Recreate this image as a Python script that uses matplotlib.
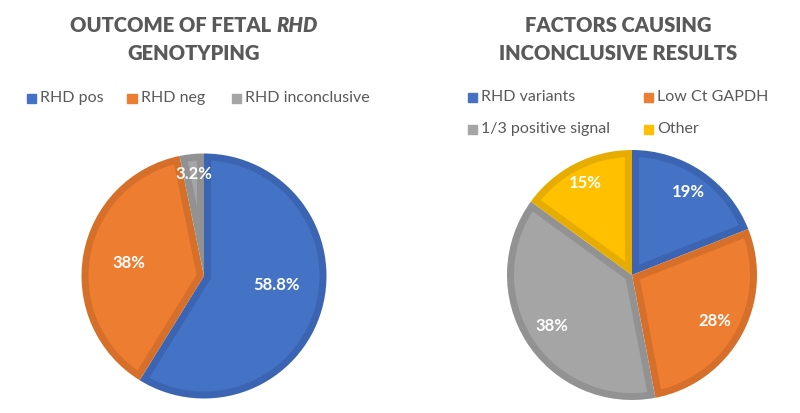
import matplotlib
matplotlib.use("Agg")
import matplotlib.pyplot as plt
from matplotlib.patches import Polygon
import numpy as np

plt.rcParams['font.family'] = ['Lato', 'DejaVu Sans']

# Дані лівої діаграми
left_labels = ['RHD pos', 'RHD neg', 'RHD inconclusive']
left_values = [58.8, 38, 3.2]
left_texts = ['58.8%', '38%', '3.2%']

# Дані правої діаграми
right_labels = ['RHD variants', 'Low Ct GAPDH', '1/3 positive signal', 'Other']
right_values = [19, 28, 38, 15]
right_texts = ['19%', '28%', '38%', '15%']

fills = ['#4472C4', '#ED7D31', '#A5A5A5', '#FFC000']
edges = ['#3B65B2', '#D66F29', '#929292', '#E6AD00']
grey = '#595959'

W, H = 800, 413
fig = plt.figure(figsize=(W / 100, H / 100), dpi=100)


def px_axes(cx, cy, r):
    # осі, що точно охоплюють коло з центром (cx, cy) і радіусом r у пікселях
    return fig.add_axes([(cx - r) / W, (H - cy - r) / H, 2 * r / W, 2 * r / H])


def inset_wedge(t1, t2, d):
    # внутрішня частина сектора, відступ d від усіх країв (рамка як в Excel)
    a1, a2 = np.deg2rad(t1), np.deg2rad(t2)
    half = (a2 - a1) / 2
    mid = (a1 + a2) / 2
    rin = 1 - d
    delta = np.arcsin(d / rin)
    arc = np.linspace(a1 + delta, a2 - delta, 200)
    pts = [(rin * np.cos(a), rin * np.sin(a)) for a in arc]
    tip = d / np.sin(half)
    pts.append((tip * np.cos(mid), tip * np.sin(mid)))
    return np.array(pts)


def draw_pie(ax, values, texts, label_r, label_shift, border):
    wedges, _ = ax.pie(values, colors=edges[:len(values)], startangle=90,
                       counterclock=False, radius=1.0)
    for i, w in enumerate(wedges):
        ax.add_patch(Polygon(inset_wedge(w.theta1, w.theta2, border),
                             closed=True, facecolor=fills[i], edgecolor='none'))
        mid = np.deg2rad((w.theta1 + w.theta2) / 2 + label_shift[i])
        ax.text(label_r[i] * np.cos(mid), label_r[i] * np.sin(mid), texts[i],
                ha='center', va='center', color='white', fontsize=12,
                fontweight='bold')
    ax.set_xlim(-1, 1)
    ax.set_ylim(-1, 1)
    ax.set_aspect('auto')
    ax.axis('off')


ax1 = px_axes(204, 276, 122.5)
draw_pie(ax1, left_values, left_texts, [0.6, 0.62, 0.84], [9, 0, 0], 7 / 122.5)

ax2 = px_axes(632, 275, 125)
draw_pie(ax2, right_values, right_texts, [0.8, 0.76, 0.76, 0.83], [0, 0, 0, 0], 7 / 125)

# Заголовки
tsize = 14.5
renderer = fig.canvas.get_renderer()


def title_line(parts, cx, cy):
    # parts: список (текст, курсив)
    objs = []
    for s, it in parts:
        objs.append(fig.text(0, (H - cy) / H, s, fontsize=tsize, fontweight='heavy',
                             style='italic' if it else 'normal', color=grey,
                             va='center', ha='left'))
    widths = [o.get_window_extent(renderer).width for o in objs]
    x = cx - sum(widths) / 2
    for o, wdt in zip(objs, widths):
        o.set_x(x / W)
        x += wdt


title_line([('OUTCOME OF FETAL ', False), ('RHD', True)], 194, 26)
title_line([('GENOTYPING', False)], 194, 53)
title_line([('FACTORS CAUSING', False)], 618, 26)
title_line([('INCONCLUSIVE RESULTS', False)], 618, 53)


# Легенди
def legend_item(x, y, color, label):
    fig.patches.append(plt.Rectangle(((x - 4.5) / W, (H - y - 4.5) / H), 9 / W, 9 / H,
                                     transform=fig.transFigure, color=color))
    fig.text((x + 9) / W, (H - y) / H, label, fontsize=11.5, color=grey,
             va='center', ha='left')


legend_item(31, 98, fills[0], left_labels[0])
legend_item(132, 98, fills[1], left_labels[1])
legend_item(236, 98, fills[2], left_labels[2])

legend_item(472, 97, fills[0], right_labels[0])
legend_item(648, 97, fills[1], right_labels[1])
legend_item(472, 129, fills[2], right_labels[2])
legend_item(648, 129, fills[3], right_labels[3])

fig.savefig('out.png', dpi=100)
